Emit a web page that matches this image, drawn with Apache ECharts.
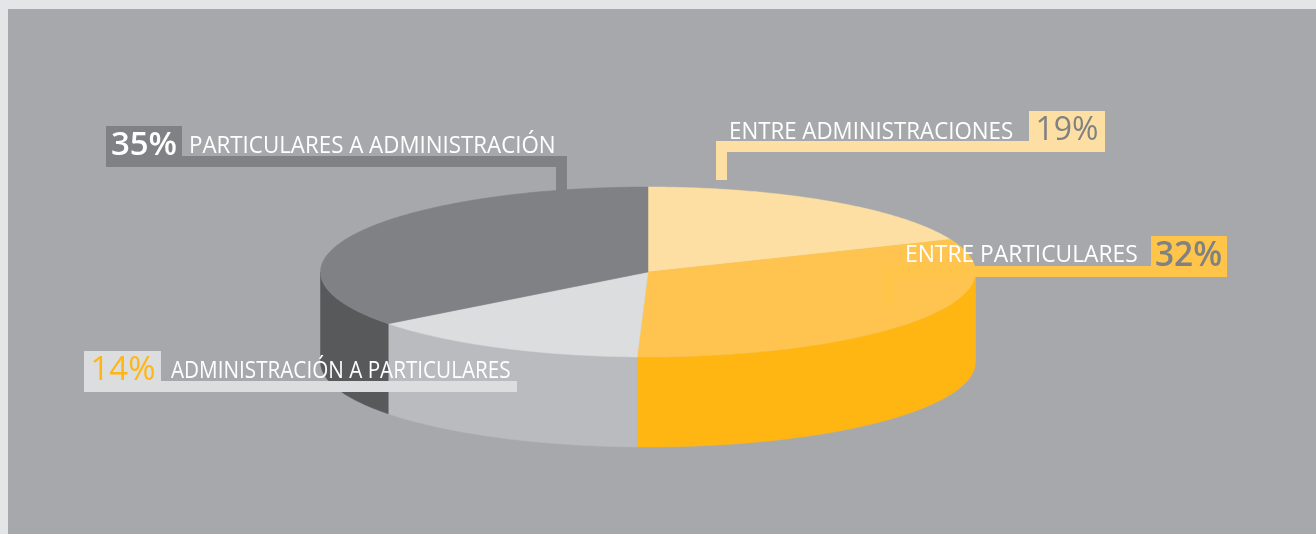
<!DOCTYPE html>
<html><head><meta charset="utf-8">
<style>html,body{margin:0;padding:0;background:#e4e5e6}#c{width:1316px;height:534px}</style>
<script src="https://cdn.jsdelivr.net/npm/echarts@6/dist/echarts.min.js"></script>
</head><body><div id="c"></div>
<script>
const categories = ['ENTRE ADMINISTRACIONES', 'ENTRE PARTICULARES', 'ADMINISTRACIÓN A PARTICULARES', 'PARTICULARES A ADMINISTRACIÓN'];
const values = [19, 32, 14, 35];
const topColors = ['#fddfa3', '#fec44f', '#dcdddf', '#808184'];
const wallColors = ['#fdd48a', '#ffb612', '#babbbf', '#58595b'];

const cx = 648, cy = 272, rx = 327.5, ry = 85, depth = 90;
const viewSkew = 1.7; // degrees of foreshortening from the tilted 3D view
const total = values.reduce((a, b) => a + b, 0);
function pt(deg, dy) {
  const r = deg * Math.PI / 180;
  return [cx + rx * Math.sin(r), cy - ry * Math.cos(r) + (dy || 0)];
}
function arc(a, b, dy) {
  const pts = [], n = Math.max(2, Math.ceil(Math.abs(b - a) * 2));
  for (let i = 0; i <= n; i++) pts.push(pt(a + (b - a) * i / n, dy));
  return pts;
}
function viewAngle(share) {
  const deg = share * 360;
  return deg - viewSkew * Math.sin(deg / 2 * Math.PI / 180);
}
function bounds(i) {
  let s = 0;
  for (let k = 0; k < i; k++) s += values[k];
  return [viewAngle(s / total), viewAngle((s + values[i]) / total)];
}
function renderWall(params, api) {
  const [a0, b0] = bounds(params.dataIndex);
  const a = Math.max(a0, 90), b = Math.min(b0, 270);
  if (b <= a) return { type: 'group', children: [] };
  const pts = arc(a, b, 0).concat(arc(b, a, depth));
  return { type: 'polygon', shape: { points: pts }, style: { fill: wallColors[params.dataIndex], stroke: wallColors[params.dataIndex], lineWidth: 0.5 } };
}
function renderTop(params, api) {
  const [a, b] = bounds(params.dataIndex);
  const pts = [[cx, cy]].concat(arc(a, b, 0));
  return { type: 'polygon', shape: { points: pts }, style: { fill: topColors[params.dataIndex], stroke: topColors[params.dataIndex], lineWidth: 0.5 } };
}
const F = '"Open Sans", "Noto Sans", sans-serif';
function rect(x, y, w, h, fill, z) {
  return { type: 'rect', shape: { x, y, width: w, height: h }, style: { fill }, z: z || 10, silent: true };
}
function txt(x, y, text, size, fill, weight, align, scaleX) {
  return { type: 'text', x, y, z: 20, silent: true, scaleX: scaleX || 1,
    style: { text, fill, font: (weight || 400) + ' ' + size + 'px ' + F, textAlign: align || 'left', textVerticalAlign: 'middle' } };
}
const pct = values.map(v => v + '%');
const labelSize = 23.5;
const chart = echarts.init(document.getElementById('c'), null, { renderer: 'canvas' });
chart.setOption({
  animation: false,
  backgroundColor: '#e4e5e6',
  tooltip: { show: false },
  series: [
    { type: 'custom', coordinateSystem: 'none', renderItem: renderWall, data: values, z: 3, silent: true },
    { type: 'custom', coordinateSystem: 'none', renderItem: renderTop, data: values, z: 4, silent: true }
  ],
  graphic: [
    rect(8, 9, 1308, 525, '#a7a8ab', -10),
    // 35 %
    rect(106, 126, 76, 41, '#808184'), rect(182, 156, 385, 11, '#808184'), rect(556, 156, 11, 36, '#808184'),
    txt(144, 146, pct[3], 33, '#ffffff', 600, 'center'), txt(189, 146.5, categories[3], labelSize, '#ffffff', 400, 'left', 0.95),
    // 19 %
    rect(1029, 111, 76, 41, '#fddfa3'), rect(716, 141, 313, 11, '#fddfa3'), rect(716, 141, 11, 39, '#fddfa3'),
    txt(1067, 131, pct[0], 32, '#808184', 400, 'center'), txt(729, 132.5, categories[0], labelSize, '#ffffff', 400, 'left', 0.948),
    // 32 %
    rect(1151, 236, 76, 41, '#ffc54a'), rect(883, 266, 268, 11, '#ffc54a'), rect(883, 266, 12, 41, '#ffc54a'),
    txt(1188.5, 256, pct[1], 33.5, '#808184', 600, 'center'), txt(905, 255.5, categories[1], labelSize, '#ffffff', 400, 'left', 0.97),
    // 14 %
    rect(84, 351, 77, 41, '#dcdddf'), rect(161, 381, 356, 11, '#dcdddf'),
    txt(123, 371, pct[2], 33, '#ffb612', 500, 'center'), txt(171, 371.5, categories[2], labelSize, '#ffffff', 400, 'left', 0.88)
  ]
});
</script></body></html>
